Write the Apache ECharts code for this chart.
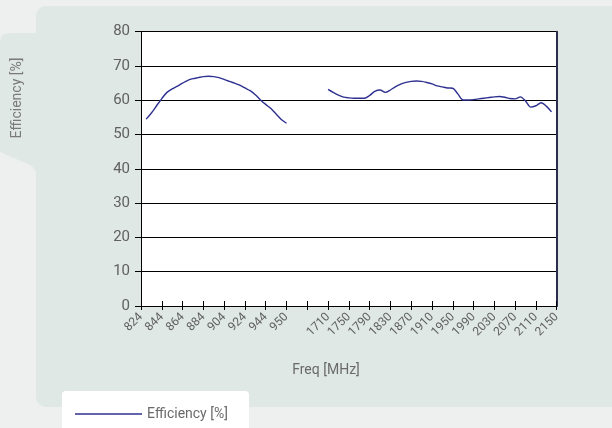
<!DOCTYPE html>
<html>
<head>
<meta charset="utf-8">
<script src="https://cdn.jsdelivr.net/npm/echarts@6/dist/echarts.min.js"></script>
<style>
  html, body { margin: 0; padding: 0; width: 612px; height: 428px; overflow: hidden; background: #eef0f0; }
  #panel { position: absolute; left: 36px; top: 6px; width: 600px; height: 401px; border-radius: 10px; background: #dfe8e5; }
  #tab { position: absolute; left: 0; top: 0; }
  #legbox { position: absolute; left: 62px; top: 391px; width: 187px; height: 60px; border-radius: 4px; background: #ffffff; }
  #chart { position: absolute; left: 0; top: 0; width: 612px; height: 428px; }
</style>
</head>
<body>
<div id="panel"></div>
<svg id="tab" width="60" height="200"><path d="M0,43 Q0,33 10,33 L44,33 L44,172 L36,172 Q34,167 30,165 L0,152 Z" fill="#dfe8e5"/></svg>
<div id="legbox"></div>
<div id="chart"></div>
<script>
// Tick labels along the frequency axis (the empty one marks the gap between bands)
const tickLabels = ['824','844','864','884','904','924','944','950','',
  '1710','1750','1790','1830','1870','1910','1950','1990','2030','2070','2110','2150'];
const subSteps = 4; // samples per tick interval

// Low band: samples from a quarter past the first tick to the "950" tick
const band1Start = 1;
const band1Values = [54.5, 56.3, 58.4, 60.5, 62.3, 63.3, 64.1, 65.0, 65.8, 66.3, 66.6, 66.9, 67.0, 66.9,
  66.6, 66.1, 65.5, 65.0, 64.4, 63.6, 62.8, 61.6, 60.1, 58.8, 57.6, 56.0, 54.4, 53.3];

// High band: samples from the "1710" tick onwards
const band2Start = 36;
const band2Values = [63.2, 62.3, 61.5, 60.9, 60.7, 60.6, 60.6, 60.6, 61.4, 62.6, 63.0, 62.3, 63.0, 64.0,
  64.7, 65.2, 65.5, 65.6, 65.5, 65.2, 64.8, 64.2, 63.9, 63.6, 63.5, 61.8, 60.1, 60.1, 60.2, 60.4,
  60.6, 60.8, 61.0, 61.1, 60.9, 60.5, 60.4, 61.0, 59.8, 58.0, 58.4, 59.3, 58.3, 56.6];

const xTitle = 'Freq [MHz]';
const yTitle = 'Efficiency [%]';

const nCats = (tickLabels.length - 1) * subSteps + 1;
const categories = [];
for (let i = 0; i < nCats; i++) categories.push(i % subSteps === 0 ? tickLabels[i / subSteps] : '');
const seriesData = new Array(nCats).fill(null);
band1Values.forEach((v, i) => { seriesData[band1Start + i] = v; });
band2Values.forEach((v, i) => { seriesData[band2Start + i] = v; });

const txt = '#606060';
const font = 'Roboto';
const chart = echarts.init(document.getElementById('chart'), null, { renderer: 'canvas' });
chart.setOption({
  backgroundColor: 'transparent',
  animation: false,
  textStyle: { fontFamily: font },
  grid: { left: 141, right: 55.3, top: 31.7, bottom: 122, show: true, backgroundColor: '#ffffff', borderWidth: 0 },
  legend: {
    left: 70, top: 402, icon: 'rect', itemWidth: 67, itemHeight: 1.5, itemGap: 5,
    textStyle: { color: '#6a6a6a', fontSize: 14, fontFamily: font },
    data: [yTitle]
  },
  graphic: [{
    type: 'text', x: 17, y: 98, rotation: Math.PI / 2,
    style: { text: yTitle, fill: '#7a7a7a', font: '14px Roboto', align: 'center', verticalAlign: 'middle' }
  }, {
    type: 'text', x: 326, y: 370,
    style: { text: xTitle, fill: '#6a6a6a', font: '14px Roboto', align: 'center', verticalAlign: 'middle' }
  }],
  xAxis: [{
    type: 'category', data: categories, boundaryGap: false,
    axisLine: { lineStyle: { color: '#000', width: 1 } },
    axisTick: { show: true, length: 4, interval: (i) => i % subSteps === 0, lineStyle: { color: '#000' } },
    axisLabel: { interval: (i) => i % subSteps === 0, rotate: 45, color: txt, fontSize: 12, margin: 9, fontFamily: font },
    splitLine: { show: false }
  }, {
    type: 'category', data: categories, boundaryGap: false, position: 'bottom',
    axisLine: { show: false },
    axisTick: { show: true, inside: true, length: 5, interval: (i) => i % subSteps === 0, lineStyle: { color: '#000' } },
    axisLabel: { show: false }, splitLine: { show: false }
  }],
  yAxis: [{
    type: 'value', min: 0, max: 80, interval: 10,
    axisLine: { show: true, lineStyle: { color: '#000', width: 1 } },
    axisTick: { show: true, length: 6, lineStyle: { color: '#000' } },
    axisLabel: { color: txt, fontSize: 15, margin: 11, fontFamily: font },
    splitLine: { show: true, lineStyle: { color: '#000', width: 1 } }
  }, {
    type: 'value', min: 0, max: 80, interval: 10, position: 'right',
    axisLine: { show: true, lineStyle: { color: '#2b2d4e', width: 2 } },
    axisTick: { show: false }, axisLabel: { show: false }, splitLine: { show: false }
  }],
  series: [{
    name: yTitle, type: 'line', data: seriesData, xAxisIndex: 0, yAxisIndex: 0,
    symbol: 'none', smooth: 0.3, connectNulls: false,
    lineStyle: { color: '#2e3190', width: 1.4 }, itemStyle: { color: '#2e3190' }
  }]
});
</script>
</body>
</html>
